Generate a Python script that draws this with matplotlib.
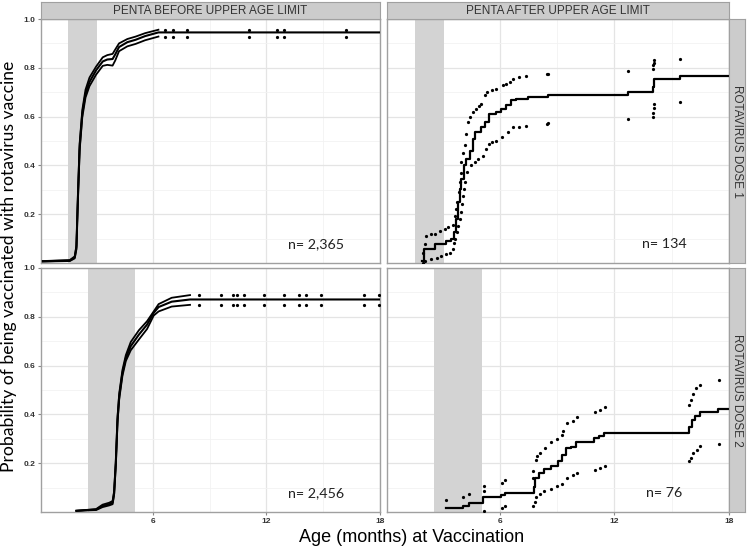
import numpy as np
import matplotlib
matplotlib.use("Agg")
from matplotlib import pyplot as plt
from matplotlib.ticker import MultipleLocator

plt.rcParams["font.family"] = ["Liberation Sans", "DejaVu Sans"]

# panel / strip labels
col_labels = ["PENTA BEFORE UPPER AGE LIMIT", "PENTA AFTER UPPER AGE LIMIT"]
row_labels = ["ROTAVIRUS DOSE 1", "ROTAVIRUS DOSE 2"]
n_labels = [["n= 2,365", "n= 134"], ["n= 2,456", "n= 76"]]

# recommended age windows (months) per dose
window_d1 = (1.55, 3.08)
window_d2 = (2.56, 5.06)

# dose 1, penta before limit (dense curve)
d1b_time = [0.2, 1.62, 1.88, 1.97, 2.05, 2.14, 2.28, 2.45, 2.66, 3.01, 3.36, 3.6, 3.88, 4.02, 4.22, 4.66, 5.1, 5.6, 6.3]
d1b_est = [0.007, 0.01, 0.023, 0.064, 0.27, 0.475, 0.612, 0.694, 0.742, 0.79, 0.826, 0.834, 0.836, 0.855, 0.885, 0.905, 0.915, 0.93, 0.945]
d1b_hi = [0.008, 0.012, 0.027, 0.072, 0.28, 0.49, 0.627, 0.71, 0.76, 0.805, 0.843, 0.852, 0.857, 0.875, 0.9, 0.918, 0.928, 0.942, 0.956]
d1b_lo = [0.006, 0.008, 0.019, 0.056, 0.26, 0.46, 0.597, 0.678, 0.725, 0.772, 0.808, 0.812, 0.809, 0.83, 0.868, 0.888, 0.898, 0.913, 0.928]
d1b_tail_time = [6.66, 7.09, 7.79, 11.1, 12.54, 12.92, 16.22]
d1b_tail_hi = 0.956
d1b_tail_lo = 0.928

# dose 2, penta before limit (dense curve)
d2b_time = [1.97, 3.01, 3.35, 3.7, 3.88, 3.96, 4.05, 4.14, 4.23, 4.4, 4.58, 4.84, 5.27, 5.7, 6.05, 6.31, 7.0, 7.97]
d2b_est = [0.005, 0.01, 0.025, 0.032, 0.038, 0.077, 0.2, 0.378, 0.474, 0.57, 0.631, 0.68, 0.727, 0.768, 0.816, 0.84, 0.862, 0.871]
d2b_hi = [0.005, 0.012, 0.03, 0.038, 0.045, 0.085, 0.21, 0.39, 0.486, 0.582, 0.643, 0.697, 0.745, 0.782, 0.822, 0.852, 0.878, 0.889]
d2b_lo = [0.005, 0.008, 0.02, 0.027, 0.032, 0.07, 0.19, 0.366, 0.462, 0.558, 0.619, 0.663, 0.707, 0.75, 0.805, 0.822, 0.842, 0.849]
d2b_tail_time = [8.43, 9.61, 10.22, 10.43, 10.8, 11.88, 12.92, 13.7, 14.08, 14.87, 17.18, 17.93]
d2b_tail_hi = 0.891
d2b_tail_lo = 0.847

# dose 1, penta after limit (step curve, CI as points)
d1a_time = [1.95, 2.05, 2.6, 3.2, 3.47, 3.6, 3.73, 3.82, 3.9, 3.99, 4.13, 4.25, 4.43, 4.6, 4.69, 5.04, 5.21, 5.42,
            5.83, 6.09, 6.35, 6.61, 6.87, 7.49, 8.53, 12.73, 14.0, 14.05, 14.1, 15.43]
d1a_est = [0.01, 0.057, 0.078, 0.092, 0.099, 0.126, 0.18, 0.249, 0.304, 0.345, 0.40, 0.427, 0.461, 0.509, 0.537, 0.557,
           0.578, 0.612, 0.619, 0.632, 0.646, 0.667, 0.672, 0.68, 0.687, 0.70, 0.72, 0.74, 0.756, 0.767]
d1a_hi_time = [2.0, 2.07, 2.16, 2.42, 2.6, 2.9, 3.12, 3.29, 3.55, 3.64, 3.7, 3.78, 3.85, 3.92, 3.96, 3.99, 4.08, 4.17,
               4.25, 4.34, 4.45, 4.6, 4.78, 4.9, 5.04, 5.21, 5.35, 5.6, 5.83, 6.17, 6.35, 6.52, 6.7, 7.0, 7.4, 8.45, 8.55,
               12.73, 14.0, 14.03, 14.06, 14.1, 15.43]
d1a_hi = [0.04, 0.078, 0.112, 0.119, 0.12, 0.13, 0.14, 0.147, 0.154, 0.194, 0.22, 0.249, 0.29, 0.33, 0.37, 0.413, 0.45,
          0.482, 0.53, 0.578, 0.60, 0.619, 0.632, 0.642, 0.653, 0.687, 0.70, 0.708, 0.715, 0.728, 0.735, 0.742, 0.756,
          0.762, 0.767, 0.776, 0.776, 0.786, 0.797, 0.81, 0.82, 0.83, 0.838]
d1a_lo_time = [1.98, 2.1, 2.42, 2.7, 2.95, 3.2, 3.38, 3.55, 3.62, 3.68, 3.75, 3.82, 3.9, 3.99, 4.04, 4.08, 4.12, 4.17,
               4.31, 4.52, 4.7, 4.86, 5.12, 5.3, 5.42, 5.6, 5.83, 6.12, 6.44, 6.7, 7.0, 7.4, 8.45, 8.55, 12.73, 14.0,
               14.03, 14.06, 14.1, 15.43]
d1a_lo = [0.0, 0.01, 0.016, 0.022, 0.03, 0.035, 0.041, 0.057, 0.08, 0.099, 0.125, 0.153, 0.18, 0.208, 0.24, 0.276,
          0.305, 0.331, 0.372, 0.40, 0.415, 0.427, 0.44, 0.468, 0.489, 0.495, 0.502, 0.516, 0.537, 0.557, 0.558, 0.56,
          0.571, 0.573, 0.589, 0.598, 0.615, 0.635, 0.653, 0.66]

# dose 2, penta after limit (step curve, CI as points)
d2a_time = [3.2, 4.08, 4.39, 5.12, 6.08, 6.3, 7.77, 7.87, 8.08, 8.34, 8.69, 9.04, 9.27, 9.48, 9.74, 10.0, 10.96, 11.22,
            11.48, 15.92, 16.05, 16.2, 16.5, 17.45]
d2a_est = [0.018, 0.026, 0.036, 0.06, 0.069, 0.079, 0.104, 0.138, 0.159, 0.177, 0.189, 0.207, 0.234, 0.262, 0.268,
           0.286, 0.303, 0.31, 0.322, 0.35, 0.378, 0.395, 0.408, 0.423]
d2a_hi_time = [3.17, 4.08, 4.38, 5.16, 5.16, 6.12, 6.26, 7.75, 7.75, 7.92, 7.97, 8.13, 8.36, 8.66, 9.02, 9.27, 9.3, 9.5,
               9.84, 10.05, 10.98, 11.24, 11.5, 15.92, 16.0, 16.1, 16.27, 16.48, 17.48]
d2a_hi = [0.049, 0.06, 0.073, 0.107, 0.088, 0.12, 0.131, 0.138, 0.166, 0.214, 0.228, 0.241, 0.262, 0.285, 0.298, 0.316,
          0.334, 0.364, 0.371, 0.391, 0.408, 0.419, 0.43, 0.44, 0.46, 0.485, 0.508, 0.522, 0.539]
d2a_lo_time = [5.16, 6.12, 6.26, 7.75, 7.84, 7.92, 8.13, 8.3, 8.66, 9.02, 9.27, 9.5, 9.84, 10.05, 10.98, 11.24, 11.5,
               15.92, 16.0, 16.12, 16.3, 16.48, 17.48]
d2a_lo = [0.005, 0.015, 0.025, 0.025, 0.04, 0.06, 0.075, 0.088, 0.093, 0.105, 0.114, 0.14, 0.15, 0.16, 0.173, 0.182,
          0.19, 0.207, 0.22, 0.24, 0.255, 0.27, 0.277]

W, H = 749, 547
fig = plt.figure(figsize=(W / 100, H / 100), dpi=100)

col_x = [(41, 380), (387, 729)]
row_y = [(19, 263), (268, 512)]
strip_top = (2, 19)
strip_right = (729, 745)
edge = "#a0a0a0"


def px_axes(x0, x1, y0, y1):
    return fig.add_axes([x0 / W, 1 - y1 / H, (x1 - x0) / W, (y1 - y0) / H])


def style_panel(ax, row, col, window):
    ax.set_xlim(0.1, 18)
    ax.set_ylim(0, 1.0)
    ax.axvspan(window[0], window[1], color="#d3d3d3", lw=0, zorder=1)
    ax.xaxis.set_major_locator(MultipleLocator(6))
    ax.xaxis.set_minor_locator(MultipleLocator(3))
    ax.set_yticks([0.2, 0.4, 0.6, 0.8, 1.0])
    ax.yaxis.set_minor_locator(MultipleLocator(0.1))
    ax.grid(which="major", color="#e4e4e4", lw=0.9, zorder=0)
    ax.grid(which="minor", color="#f2f2f2", lw=0.6, zorder=0)
    ax.set_axisbelow(True)
    for s in ax.spines.values():
        s.set_color(edge)
        s.set_linewidth(1.0)
    ax.tick_params(which="both", length=0)
    ax.tick_params(which="major", labelsize=6, colors="#333333", pad=2)
    for lab in ax.get_xticklabels() + ax.get_yticklabels():
        lab.set_fontweight("bold")
    if col == 0:
        ax.tick_params(axis="y", which="major", length=2, color="#888888")
    else:
        ax.set_yticklabels([])
    if row == 1:
        ax.tick_params(axis="x", which="major", length=2, color="#888888")
    else:
        ax.set_xticklabels([])
    ax.text(14.6, 0.077, n_labels[row][col], ha="center", va="center", fontsize=10.3, color="#222222",
            family=["Lato", "DejaVu Sans"])


def dense_panel(ax, t, est, hi, lo, tail_t, tail_hi, tail_lo):
    ax.plot(np.append(t, 18), np.append(est, est[-1]), color="k", lw=1.5, zorder=3)
    ax.plot(t, hi, color="k", lw=1.3, zorder=3)
    ax.plot(t, lo, color="k", lw=1.3, zorder=3)
    ax.plot(tail_t, [tail_hi] * len(tail_t), ls="none", marker="o", ms=1.3, color="k", zorder=3)
    ax.plot(tail_t, [tail_lo] * len(tail_t), ls="none", marker="o", ms=1.3, color="k", zorder=3)


def step_panel(ax, t, est, hi_t, hi, lo_t, lo):
    ax.step(np.append(t, 18), np.append(est, est[-1]), where="post", color="k", lw=1.6, zorder=3)
    ax.plot(hi_t, hi, ls="none", marker="o", ms=1.3, color="k", zorder=3)
    ax.plot(lo_t, lo, ls="none", marker="o", ms=1.3, color="k", zorder=3)


axes = [[px_axes(*col_x[c], *row_y[r]) for c in range(2)] for r in range(2)]

style_panel(axes[0][0], 0, 0, window_d1)
dense_panel(axes[0][0], d1b_time, d1b_est, d1b_hi, d1b_lo, d1b_tail_time, d1b_tail_hi, d1b_tail_lo)
style_panel(axes[0][1], 0, 1, window_d1)
step_panel(axes[0][1], d1a_time, d1a_est, d1a_hi_time, d1a_hi, d1a_lo_time, d1a_lo)
style_panel(axes[1][0], 1, 0, window_d2)
dense_panel(axes[1][0], d2b_time, d2b_est, d2b_hi, d2b_lo, d2b_tail_time, d2b_tail_hi, d2b_tail_lo)
style_panel(axes[1][1], 1, 1, window_d2)
step_panel(axes[1][1], d2a_time, d2a_est, d2a_hi_time, d2a_hi, d2a_lo_time, d2a_lo)

# facet strips
for c in range(2):
    s = px_axes(col_x[c][0], col_x[c][1], *strip_top)
    s.set_facecolor("#cccccc")
    s.set_xticks([]); s.set_yticks([])
    for sp in s.spines.values():
        sp.set_color(edge)
    s.text(0.5, 0.48, col_labels[c], ha="center", va="center", fontsize=8.5, color="#333333",
           transform=s.transAxes)
for r in range(2):
    s = px_axes(*strip_right, *row_y[r])
    s.set_facecolor("#cccccc")
    s.set_xticks([]); s.set_yticks([])
    for sp in s.spines.values():
        sp.set_color(edge)
    s.text(0.5, 0.5, row_labels[r], ha="center", va="center", fontsize=8.5, color="#333333",
           rotation=-90, transform=s.transAxes)

fig.text(412 / W, 1 - 537 / H, "Age (months) at Vaccination", ha="center", va="center", fontsize=13)
fig.text(9 / W, 1 - 266 / H, "Probability of being vaccinated with rotavirus vaccine", ha="center",
         va="center", rotation=90, fontsize=12.6, family=["Lato", "DejaVu Sans"])

fig.savefig("out.png", dpi=100)
